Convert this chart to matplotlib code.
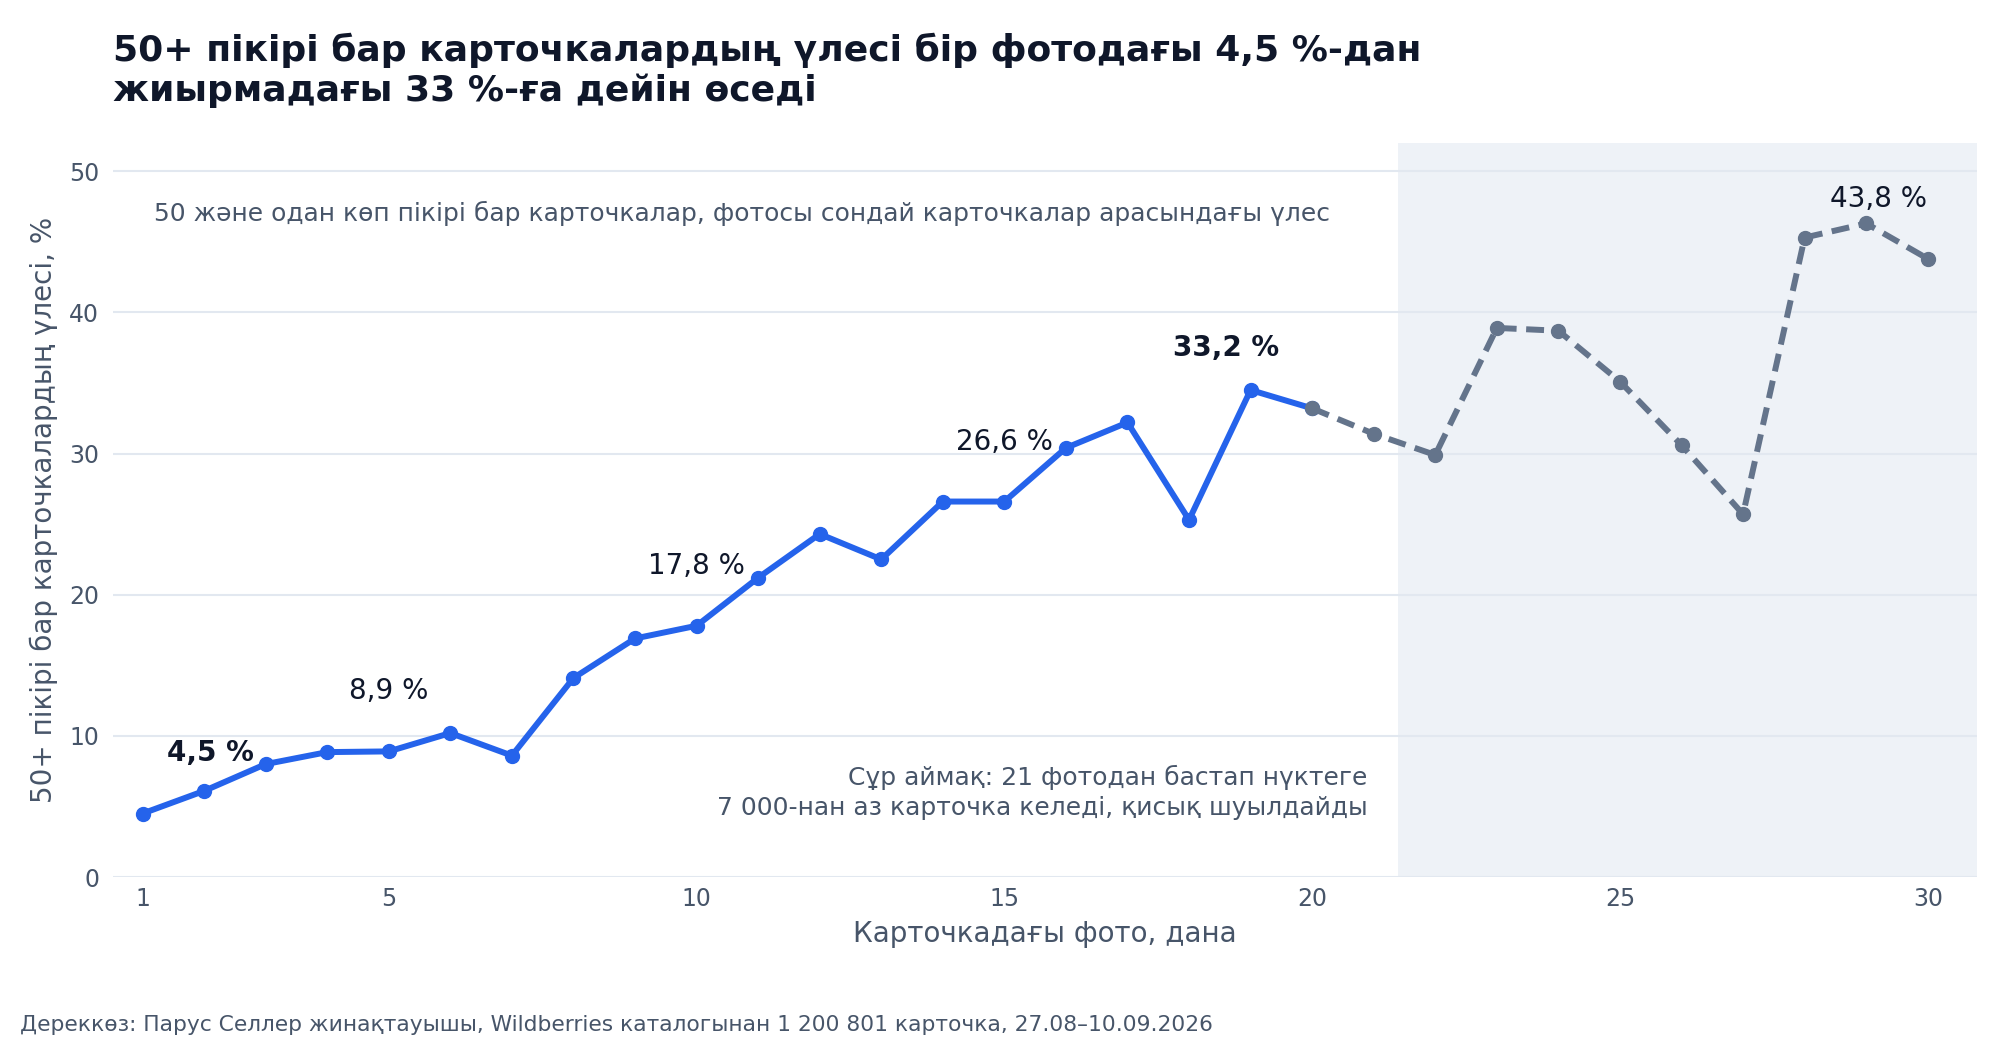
import matplotlib
matplotlib.use("Agg")
import matplotlib.pyplot as plt

plt.rcParams['font.family'] = ['DejaVu Sans']

photos = list(range(1, 31))
share = [4.5, 6.1, 8.0, 8.85, 8.9, 10.2, 8.6, 14.1, 16.9, 17.8,
         21.2, 24.3, 22.5, 26.6, 26.6, 30.4, 32.2, 25.3, 34.5, 33.2,
         31.4, 29.9, 38.9, 38.7, 35.1, 30.6, 25.7, 45.3, 46.3, 43.8]
solid_end = 20
noisy_from = 21.4

labels = [
    (2.1, 8.8, "4,5 %", "bold"),
    (5.0, 13.2, "8,9 %", "normal"),
    (10.0, 22.0, "17,8 %", "normal"),
    (15.0, 30.8, "26,6 %", "normal"),
    (18.6, 37.5, "33,2 %", "bold"),
    (29.2, 48.0, "43,8 %", "normal"),
]

title = "50+ пікірі бар карточкалардың үлесі бір фотодағы 4,5 %-дан\nжиырмадағы 33 %-ға дейін өседі"
subtitle = "50 және одан көп пікірі бар карточкалар, фотосы сондай карточкалар арасындағы үлес"
note = "Сұр аймақ: 21 фотодан бастап нүктеге\n7 000-нан аз карточка келеді, қисық шуылдайды"
xlabel = "Карточкадағы фото, дана"
ylabel = "50+ пікірі бар карточкалардың үлесі, %"
source = "Дереккөз: Парус Селлер жинақтауышы, Wildberries каталогынан 1 200 801 карточка, 27.08–10.09.2026"
xticks = [1, 5, 10, 15, 20, 25, 30]
yticks = [0, 10, 20, 30, 40, 50]

BLUE = "#2563EB"
GRAY = "#64748B"
TXT = "#0F172A"
MUTED = "#475569"
GRID = "#E2E8F0"

fig = plt.figure(figsize=(20, 10.4), dpi=100)
ax = fig.add_axes([0.0565, 0.1567, 0.932, 0.7058])

ax.set_xlim(0.52, 30.8)
ax.set_ylim(0, 52)

ax.axvspan(noisy_from, 30.8, color="#EEF2F7", zorder=0, lw=0)

ax.set_yticks(yticks)
ax.set_xticks(xticks)
ax.grid(axis="y", color=GRID, lw=1.5, zorder=1)
ax.set_axisbelow(True)
for s in ax.spines.values():
    s.set_visible(False)
ax.tick_params(axis="y", length=0, labelsize=17, labelcolor=MUTED, pad=10)
ax.tick_params(axis="x", length=0, labelsize=17, labelcolor=MUTED, pad=7)

xs1 = photos[:solid_end]
ys1 = share[:solid_end]
xs2 = photos[solid_end - 1:]
ys2 = share[solid_end - 1:]
ax.plot(xs1, ys1, color=BLUE, lw=4.3, marker="o", ms=10, zorder=3)
ax.plot(xs2, ys2, color=GRAY, lw=4.3, ls=(0, (3, 1.6)), marker="o", ms=10, zorder=4)

for x, y, t, w in labels:
    ax.text(x, y, t, ha="center", va="center", fontsize=20, fontweight=w, color=TXT, zorder=5)

ax.text(1.19, 47.0, subtitle, ha="left", va="center", fontsize=18, color=MUTED)
ax.text(20.9, 6.0, note, ha="right", va="center", fontsize=18, color=MUTED, linespacing=1.3)

ax.set_xlabel(xlabel, fontsize=20, color=MUTED, labelpad=7)
ax.set_ylabel(ylabel, fontsize=20, color=MUTED, labelpad=7.5)

fig.text(113 / 2000, 1 - 70 / 1040, title, ha="left", va="center", fontsize=26,
         fontweight="bold", color=TXT, linespacing=1.2)
fig.text(20 / 2000, 1 - 1025 / 1040, source, ha="left", va="center", fontsize=15.7, color=MUTED)

fig.savefig("out.png", dpi=100, facecolor="white")
